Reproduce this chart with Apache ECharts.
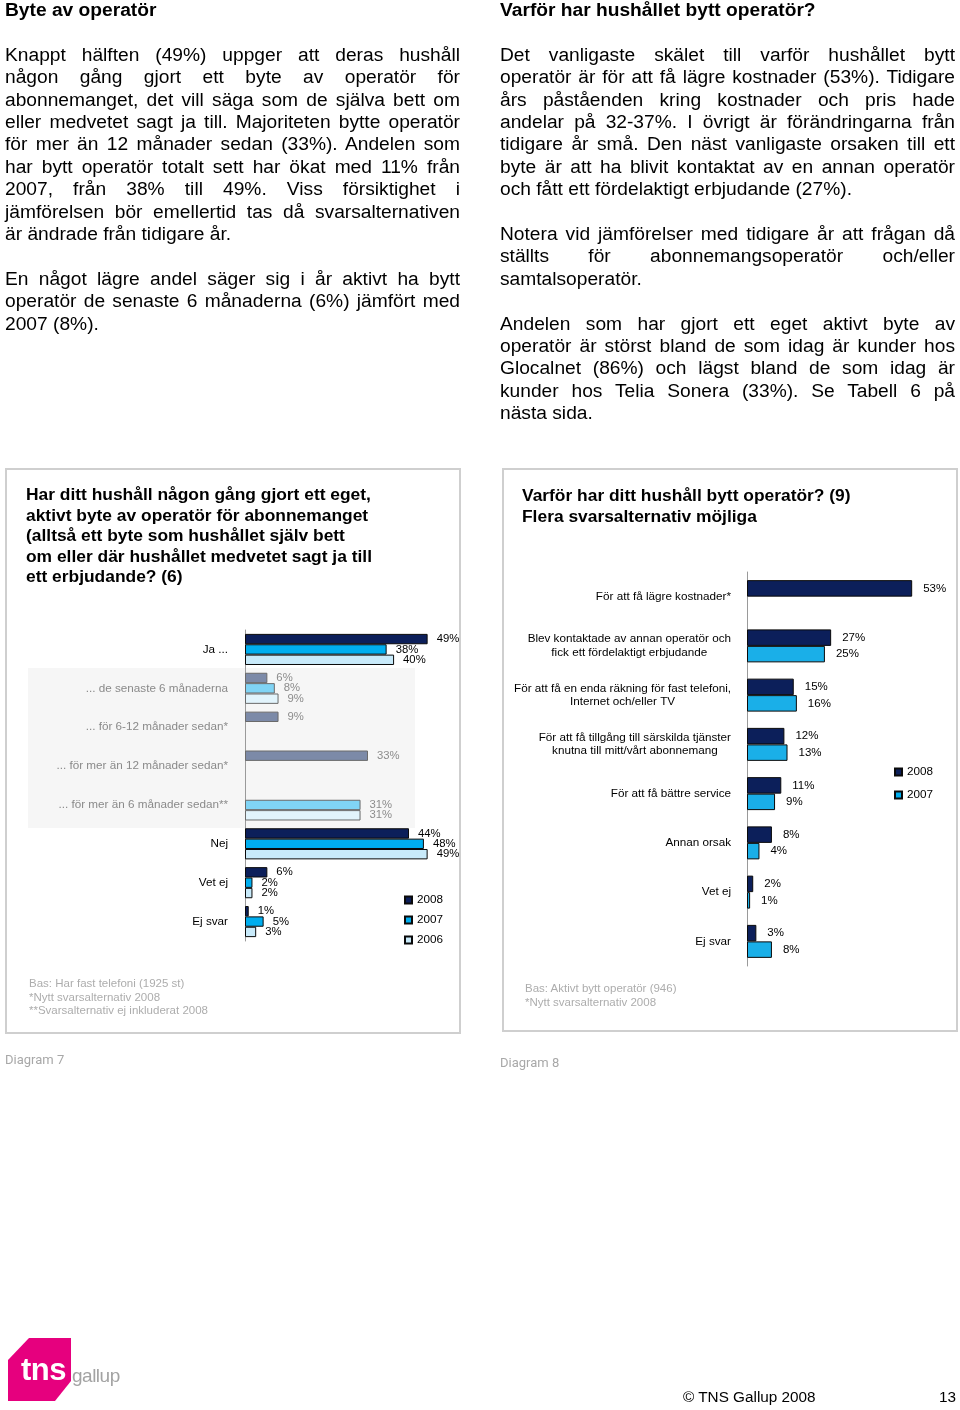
<!DOCTYPE html>
<html><head><meta charset="utf-8">
<script src="https://cdn.jsdelivr.net/npm/echarts@6/dist/echarts.min.js"></script>
<style>
body{margin:0;width:960px;height:1410px;position:relative;background:#fff;font-family:"Liberation Sans",Arial,sans-serif;overflow:hidden;color:#000}
.col{position:absolute;top:-1px;width:455px;font-size:19.2px;line-height:22.4px;z-index:3}
.col .h{font-weight:bold}
.col .j{text-align:justify;text-align-last:justify}
.col .b{height:22.4px}
.panel{position:absolute;border:2px solid #cfcfcf;z-index:0}
.ptitle{position:absolute;font-weight:bold;font-size:17.4px;line-height:20.6px;z-index:3}
.foot{position:absolute;font-size:11.5px;line-height:13.5px;color:#adadad;z-index:3}
.diag{position:absolute;font-size:13px;color:#a8a8a8;z-index:3;font-family:Roboto,"Liberation Sans",sans-serif}
#chart{position:absolute;left:0;top:0;width:960px;height:1410px;z-index:1}
</style></head>
<body>
<div class="panel" style="left:5px;top:468px;width:452px;height:562px"></div>
<div class="panel" style="left:502px;top:468px;width:452px;height:560px"></div>
<div id="chart"></div>

<div class="col" style="left:5px">
<div class="h">Byte av operatör</div>
<div class="b"></div>
<div class="j">Knappt hälften (49%) uppger att deras hushåll</div>
<div class="j">någon gång gjort ett byte av operatör för</div>
<div class="j">abonnemanget, det vill säga som de själva bett om</div>
<div class="j">eller medvetet sagt ja till. Majoriteten bytte operatör</div>
<div class="j">för mer än 12 månader sedan (33%). Andelen som</div>
<div class="j">har bytt operatör totalt sett har ökat med 11% från</div>
<div class="j">2007, från 38% till 49%. Viss försiktighet i</div>
<div class="j">jämförelsen bör emellertid tas då svarsalternativen</div>
<div>är ändrade från tidigare år.</div>
<div class="b"></div>
<div class="j">En något lägre andel säger sig i år aktivt ha bytt</div>
<div class="j">operatör de senaste 6 månaderna (6%) jämfört med</div>
<div>2007 (8%).</div>
</div>

<div class="col" style="left:500px">
<div class="h">Varför har hushållet bytt operatör?</div>
<div class="b"></div>
<div class="j">Det vanligaste skälet till varför hushållet bytt</div>
<div class="j">operatör är för att få lägre kostnader (53%). Tidigare</div>
<div class="j">års påståenden kring kostnader och pris hade</div>
<div class="j">andelar på 32-37%. I övrigt är förändringarna från</div>
<div class="j">tidigare år små. Den näst vanligaste orsaken till ett</div>
<div class="j">byte är att ha blivit kontaktat av en annan operatör</div>
<div>och fått ett fördelaktigt erbjudande (27%).</div>
<div class="b"></div>
<div class="j">Notera vid jämförelser med tidigare år att frågan då</div>
<div class="j">ställts för abonnemangsoperatör och/eller</div>
<div>samtalsoperatör.</div>
<div class="b"></div>
<div class="j">Andelen som har gjort ett eget aktivt byte av</div>
<div class="j">operatör är störst bland de som idag är kunder hos</div>
<div class="j">Glocalnet (86%) och lägst bland de som idag är</div>
<div class="j">kunder hos Telia Sonera (33%). Se Tabell 6 på</div>
<div>nästa sida.</div>
</div>

<div class="ptitle" style="left:26px;top:484px">Har ditt hushåll någon gång gjort ett eget,<br>aktivt byte av operatör för abonnemanget<br>(alltså ett byte som hushållet själv bett<br>om eller där hushållet medvetet sagt ja till<br>ett erbjudande? (6)</div>
<div class="ptitle" style="left:522px;top:485px">Varför har ditt hushåll bytt operatör? (9)<br>Flera svarsalternativ möjliga</div>

<div class="foot" style="left:29px;top:977px">Bas: Har fast telefoni (1925 st)<br>*Nytt svarsalternativ 2008<br>**Svarsalternativ ej inkluderat 2008</div>
<div class="foot" style="left:525px;top:982px">Bas: Aktivt bytt operatör (946)<br>*Nytt svarsalternativ 2008</div>

<div class="diag" style="left:5px;top:1052px">Diagram 7</div>
<div class="diag" style="left:500px;top:1055px">Diagram 8</div>

<div style="position:absolute;left:8px;top:1338px;width:63px;height:63px;background:#e6007e;clip-path:polygon(21px 0,63px 0,63px 43px,47px 63px,0 63px,0 22px)"></div>
<div style="position:absolute;left:21px;top:1352px;font-size:31px;font-weight:bold;color:#fff;letter-spacing:-0.5px;z-index:3">tns</div>
<div style="position:absolute;left:72px;top:1365px;font-size:19px;color:#a3a3a3;z-index:3;letter-spacing:-0.5px">gallup</div>
<div style="position:absolute;left:683px;top:1388px;font-size:15.3px;z-index:3">© TNS Gallup 2008</div>
<div style="position:absolute;left:939px;top:1388px;font-size:15.3px;z-index:3">13</div>

<script>
// ---- Diagram 7 data ----
const leftCategories = ['Ja ...', '... de senaste 6 månaderna', '... för 6-12 månader sedan*', '... för mer än 12 månader sedan*', '... för mer än 6 månader sedan**', 'Nej', 'Vet ej', 'Ej svar'];
const leftIsSub = [false, true, true, true, true, false, false, false];
const left2008 = [49, 6, 9, 33, null, 44, 6, 1];
const left2007 = [38, 8, null, null, 31, 48, 2, 5];
const left2006 = [40, 9, null, null, 31, 49, 2, 3];
const leftLegend = ['2008', '2007', '2006'];

// ---- Diagram 8 data ----
const rightCategories = ['För att få lägre kostnader*', 'Blev kontaktade av annan operatör och\nfick ett fördelaktigt erbjudande', 'För att få en enda räkning för fast telefoni,\nInternet och/eller TV', 'För att få tillgång till särskilda tjänster\nknutna till mitt/vårt abonnemang', 'För att få bättre service', 'Annan orsak', 'Vet ej', 'Ej svar'];
const right2008 = [53, 27, 15, 12, 11, 8, 2, 3];
const right2007 = [null, 25, 16, 13, 9, 4, 1, 8];
const rightLegend = ['2008', '2007'];

const FONT = '"Liberation Sans", Arial, sans-serif';
const pct = p => (p.value == null ? '' : p.value + '%');

function leftSeries(name, vals, color, subColor) {
  return {
    type: 'bar', name, xAxisIndex: 0, yAxisIndex: 0,
    barGap: '0%', barCategoryGap: '20%',
    itemStyle: { color, borderColor: '#0a0a0a', borderWidth: 1 },
    label: { show: true, position: 'right', distance: 9, fontSize: 11.3, color: '#000', fontFamily: FONT, formatter: pct },
    data: vals.map((v, i) => leftIsSub[i]
      ? { value: v, itemStyle: { color: subColor, borderColor: '#6a6a6a' }, label: { color: '#8c8c8c' } }
      : v)
  };
}
function rightSeries(name, vals, color) {
  return {
    type: 'bar', name, xAxisIndex: 1, yAxisIndex: 1,
    barGap: '0%', barCategoryGap: '33%',
    itemStyle: { color, borderColor: '#0a0a0a', borderWidth: 1 },
    label: { show: true, position: 'right', distance: 11, fontSize: 11.5, color: '#000', fontFamily: FONT, formatter: pct },
    data: vals
  };
}

const chart = echarts.init(document.getElementById('chart'), null, { renderer: 'canvas' });
chart.setOption({
  animation: false,
  textStyle: { fontFamily: FONT },
  graphic: [{ type: 'rect', z: -10, shape: { x: 28, y: 668, width: 387, height: 160 }, style: { fill: '#f6f6f6' } }],
  grid: [
    { left: 245, top: 630, width: 205, height: 311 },
    { left: 747, top: 572, width: 187, height: 394 }
  ],
  xAxis: [
    { gridIndex: 0, type: 'value', min: 0, max: 55, show: false },
    { gridIndex: 1, type: 'value', min: 0, max: 60, show: false }
  ],
  yAxis: [
    {
      gridIndex: 0, type: 'category', inverse: true, data: leftCategories,
      axisLine: { show: true, lineStyle: { color: '#9a9a9a' } }, axisTick: { show: false },
      axisLabel: {
        margin: 17, fontSize: 11.7,
        formatter: (v, i) => leftIsSub[i] ? '{s|' + v + '}' : '{m|' + v + '}',
        rich: { m: { color: '#000', fontSize: 11.7, fontFamily: FONT }, s: { color: '#8a8a8a', fontSize: 11.7, fontFamily: FONT } }
      }
    },
    {
      gridIndex: 1, type: 'category', inverse: true, data: rightCategories,
      axisLine: { show: true, lineStyle: { color: '#9a9a9a' } }, axisTick: { show: false },
      axisLabel: {
        margin: 16, fontSize: 11.7, lineHeight: 13.5,
        formatter: v => v.split('\n').map(l => '{c|' + l + '}').join('\n'),
        rich: { c: { align: 'center', color: '#000', fontSize: 11.7, lineHeight: 13.5, fontFamily: FONT } }
      }
    }
  ],
  legend: [
    { data: leftLegend, orient: 'vertical', left: 399, top: 889, icon: 'rect', itemWidth: 7, itemHeight: 7, itemGap: 8,
      textStyle: { fontSize: 11.7, color: '#000', fontFamily: FONT } },
    { data: rightLegend, orient: 'vertical', left: 889, top: 761, icon: 'rect', itemWidth: 7, itemHeight: 7, itemGap: 11,
      textStyle: { fontSize: 11.7, color: '#000', fontFamily: FONT } }
  ],
  series: [
    leftSeries('2008', left2008, '#0c1f5a', '#7c8aa8'),
    leftSeries('2007', left2007, '#00aeef', '#80d4f5'),
    leftSeries('2006', left2006, '#c8eafa', '#e2f4fc'),
    rightSeries('2008', right2008, '#0c1f5a'),
    rightSeries('2007', right2007, '#1aafe8')
  ]
});
</script>
</body></html>
